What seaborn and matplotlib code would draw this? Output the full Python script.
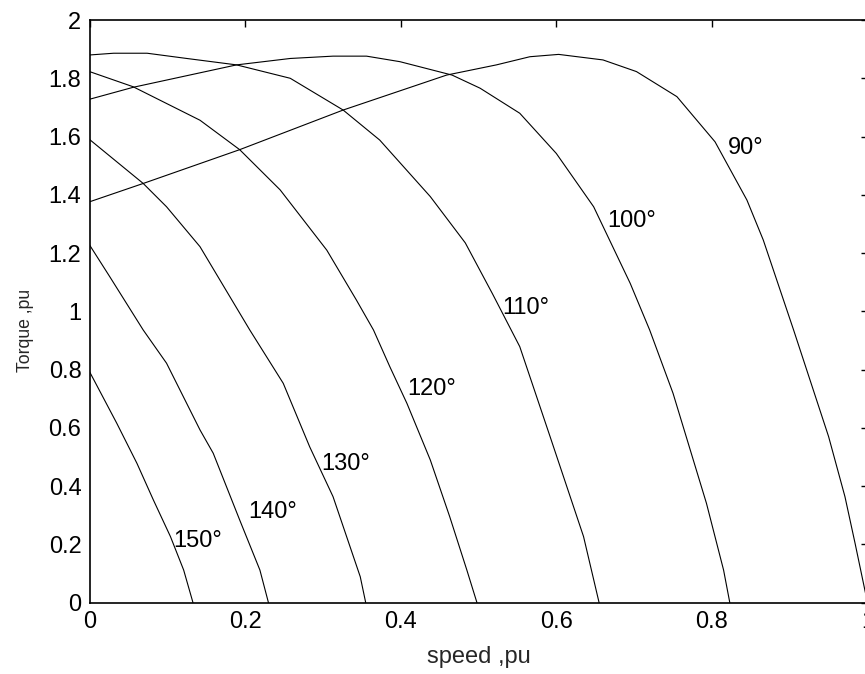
import matplotlib
matplotlib.use("Agg")
import matplotlib.pyplot as plt
from matplotlib.ticker import FormatStrFormatter
import seaborn as sns
import pandas as pd

# Torque-speed characteristics for several firing angles (per-unit values)
speed_90 = [0.000, 0.069, 0.193, 0.326, 0.459, 0.523, 0.566, 0.603, 0.660, 0.703,
            0.755, 0.804, 0.845, 0.866, 0.905, 0.950, 0.971, 0.984, 1.000]
torque_90 = [1.376, 1.439, 1.555, 1.691, 1.811, 1.846, 1.874, 1.882, 1.863, 1.823,
             1.737, 1.582, 1.382, 1.245, 0.936, 0.570, 0.364, 0.204, 0.000]

speed_100 = [0.000, 0.056, 0.189, 0.258, 0.313, 0.356, 0.399, 0.466, 0.502, 0.553,
             0.600, 0.648, 0.695, 0.720, 0.750, 0.793, 0.815, 0.823]
torque_100 = [1.728, 1.769, 1.846, 1.868, 1.876, 1.876, 1.857, 1.811, 1.766, 1.680,
              1.542, 1.359, 1.096, 0.936, 0.719, 0.341, 0.112, 0.000]

speed_110 = [0.000, 0.031, 0.074, 0.125, 0.189, 0.258, 0.326, 0.373, 0.438, 0.483,
             0.518, 0.553, 0.592, 0.635, 0.655]
torque_110 = [1.880, 1.886, 1.886, 1.868, 1.846, 1.800, 1.691, 1.588, 1.394, 1.235,
              1.060, 0.879, 0.570, 0.227, 0.000]

speed_120 = [0.000, 0.056, 0.142, 0.193, 0.245, 0.305, 0.343, 0.365, 0.386, 0.408,
             0.438, 0.463, 0.485, 0.498]
torque_120 = [1.823, 1.771, 1.656, 1.555, 1.417, 1.210, 1.039, 0.936, 0.810, 0.684,
              0.490, 0.295, 0.112, 0.000]

speed_130 = [0.000, 0.069, 0.099, 0.142, 0.206, 0.249, 0.283, 0.313, 0.348, 0.355]
torque_130 = [1.590, 1.439, 1.359, 1.222, 0.936, 0.753, 0.535, 0.364, 0.089, 0.000]

speed_140 = [0.000, 0.026, 0.069, 0.099, 0.142, 0.159, 0.193, 0.219, 0.230]
torque_140 = [1.228, 1.119, 0.936, 0.822, 0.593, 0.513, 0.284, 0.112, 0.000]

speed_150 = [0.000, 0.035, 0.061, 0.082, 0.104, 0.121, 0.133]
torque_150 = [0.793, 0.616, 0.478, 0.353, 0.227, 0.112, 0.000]

angles = [90, 100, 110, 120, 130, 140, 150]
speeds = [speed_90, speed_100, speed_110, speed_120, speed_130, speed_140, speed_150]
torques = [torque_90, torque_100, torque_110, torque_120, torque_130, torque_140, torque_150]

# Where each curve's angle annotation sits (speed, torque)
label_speed = [0.821, 0.666, 0.530, 0.408, 0.298, 0.204, 0.107]
label_torque = [1.561, 1.310, 1.012, 0.734, 0.476, 0.310, 0.212]

x_ticks = [0, 0.2, 0.4, 0.6, 0.8, 1.0]
y_ticks = [0, 0.2, 0.4, 0.6, 0.8, 1.0, 1.2, 1.4, 1.6, 1.8, 2.0]

sns.set_style("white")
plt.rcParams["font.family"] = ["Liberation Sans", "DejaVu Sans"]

frames = []
for ang, s, t in zip(angles, speeds, torques):
    frames.append(pd.DataFrame({"speed": s, "torque": t, "angle": ang}))
data = pd.concat(frames, ignore_index=True)

fig = plt.figure(figsize=(8.65, 6.74), dpi=100)
ax = fig.add_axes([0.1035, 0.1058, 0.8994, 0.8645])

sns.lineplot(data=data, x="speed", y="torque", units="angle", estimator=None,
             sort=False, color="black", linewidth=0.8, ax=ax, legend=False)

for ang, lx, ly in zip(angles, label_speed, label_torque):
    ax.text(lx, ly, f"{ang}\u00b0", ha="left", va="center", fontsize=17, color="black")

ax.set_xlim(0, 1)
ax.set_ylim(0, 2)
ax.set_xticks(x_ticks)
ax.set_yticks(y_ticks)
ax.xaxis.set_major_formatter(FormatStrFormatter("%g"))
ax.yaxis.set_major_formatter(FormatStrFormatter("%g"))
ax.tick_params(direction="in", length=5, width=1, pad=5.8, labelsize=17,
               top=True, right=True, colors="black")

for sp in ax.spines.values():
    sp.set_visible(True)
    sp.set_color("black")
    sp.set_linewidth(1.2)

ax.set_xlabel("speed ,pu", fontsize=17)
ax.set_ylabel("Torque ,pu", fontsize=12.7)
ax.xaxis.set_label_coords(0.5, -0.074)
ax.yaxis.set_label_coords(-0.071, 0.4666)

fig.savefig("out.png", dpi=100)
